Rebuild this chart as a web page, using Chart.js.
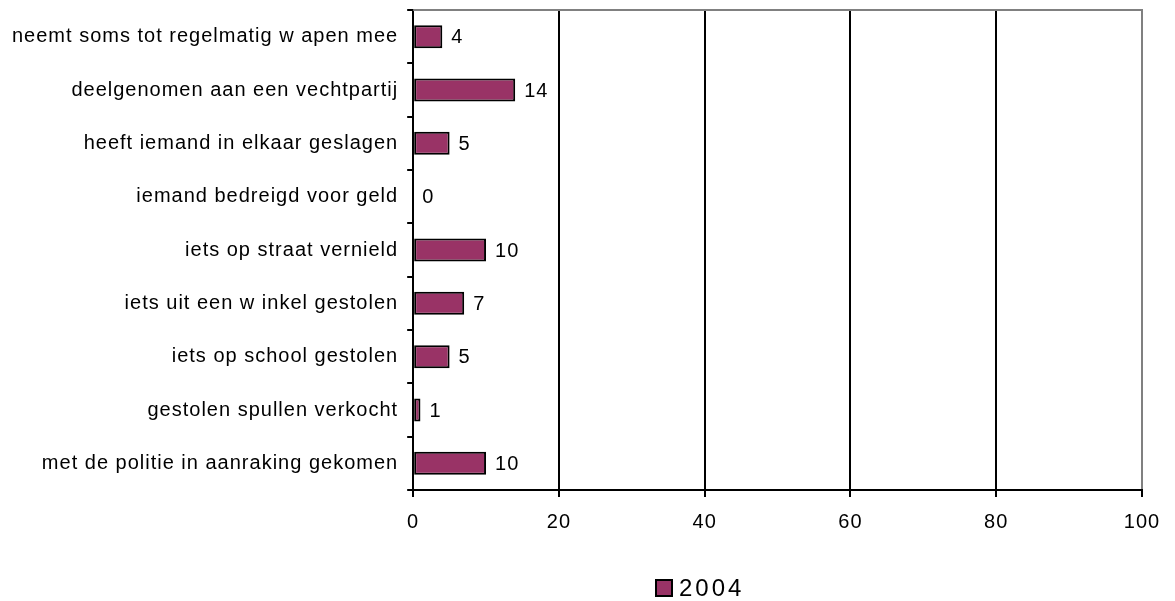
<!DOCTYPE html>
<html lang="nl">
<head>
<meta charset="UTF-8">
<title>Delicten 2004</title>
<script src="https://cdn.jsdelivr.net/npm/chart.js"></script>
<style>
  body { margin: 0; background: #fff; }
  #wrap { width: 1175px; height: 601px; position: relative; }
</style>
</head>
<body>
<div id="wrap"><canvas id="chart"></canvas></div>
<script>
// categories top to bottom
const categories = [
  'neemt soms tot regelmatig w apen mee',
  'deelgenomen aan een vechtpartij',
  'heeft iemand in elkaar geslagen',
  'iemand bedreigd voor geld',
  'iets op straat vernield',
  'iets uit een w inkel gestolen',
  'iets op school gestolen',
  'gestolen spullen verkocht',
  'met de politie in aanraking gekomen'
];
const values2004 = [4, 14, 5, 0, 10, 7, 5, 1, 10];
const seriesLabel = '2004';
const xTicks = [0, 20, 40, 60, 80, 100];

const FONT = '"Liberation Sans", Arial, sans-serif';
const BAR_COLOR = '#993366';

// wide letter spacing like the original, grey frame, value labels, legend
const extras = {
  id: 'extras',
  beforeLayout(chart) { chart.ctx.letterSpacing = '1px'; },
  beforeDraw(chart) { chart.ctx.letterSpacing = '1px'; },
  afterDraw(chart) {
    const ctx = chart.ctx;
    const area = chart.chartArea;
    ctx.save();
    // grey top border
    ctx.strokeStyle = '#808080';
    ctx.lineWidth = 2;
    ctx.beginPath();
    ctx.moveTo(area.left, area.top);
    ctx.lineTo(area.right + 1, area.top);
    ctx.stroke();

    // value labels
    ctx.fillStyle = '#000';
    ctx.font = '20px ' + FONT;
    ctx.letterSpacing = '1px';
    ctx.textBaseline = 'middle';
    ctx.textAlign = 'left';
    chart.getDatasetMeta(0).data.forEach((bar, i) => {
      ctx.fillText(String(values2004[i]), bar.x + 9, bar.y + 1);
    });

    // legend
    ctx.font = '24px ' + FONT;
    ctx.letterSpacing = '3px';
    const box = 16;
    const x0 = 656;
    const yc = 588;
    ctx.fillStyle = BAR_COLOR;
    ctx.fillRect(x0, yc - box / 2, box, box);
    ctx.strokeStyle = '#000';
    ctx.lineWidth = 2;
    ctx.strokeRect(x0, yc - box / 2, box, box);
    ctx.fillStyle = '#000';
    ctx.fillText(seriesLabel, x0 + box + 7, yc + 1);
    ctx.restore();
  }
};

new Chart(document.getElementById('chart'), {
  type: 'bar',
  data: {
    labels: categories,
    datasets: [{
      label: seriesLabel,
      data: values2004,
      backgroundColor: BAR_COLOR,
      borderColor: '#000',
      borderWidth: 2,
      borderSkipped: false,
      categoryPercentage: 1,
      barPercentage: 0.43
    }]
  },
  options: {
    indexAxis: 'y',
    responsive: true,
    maintainAspectRatio: false,
    animation: false,
    layout: { padding: { top: 10, right: 33, bottom: 54, left: 3 } },
    plugins: {
      tooltip: { enabled: false },
      legend: { display: false }
    },
    scales: {
      x: {
        min: 0,
        max: 100,
        afterBuildTicks: axis => { axis.ticks = xTicks.map(v => ({ value: v })); },
        grid: {
          color: ctx => ctx.tick && ctx.tick.value === 100 ? '#808080' : '#000',
          lineWidth: 2,
          tickLength: 7,
          tickColor: '#000'
        },
        border: { display: true, color: '#000', width: 2 },
        ticks: {
          color: '#000',
          font: { family: FONT, size: 20 },
          padding: 13,
          maxRotation: 0
        }
      },
      y: {
        // category labels sit between ticks, no extra room needed above/below
        afterFit: scale => { scale.paddingTop = 0; scale.paddingBottom = 0; },
        grid: {
          offset: true,
          drawOnChartArea: false,
          drawTicks: true,
          tickLength: 6,
          tickColor: '#000',
          lineWidth: 2
        },
        border: { display: true, color: '#000', width: 2 },
        ticks: {
          color: '#000',
          font: { family: FONT, size: 20 },
          padding: 9
        }
      }
    }
  },
  plugins: [extras]
});
</script>
</body>
</html>
